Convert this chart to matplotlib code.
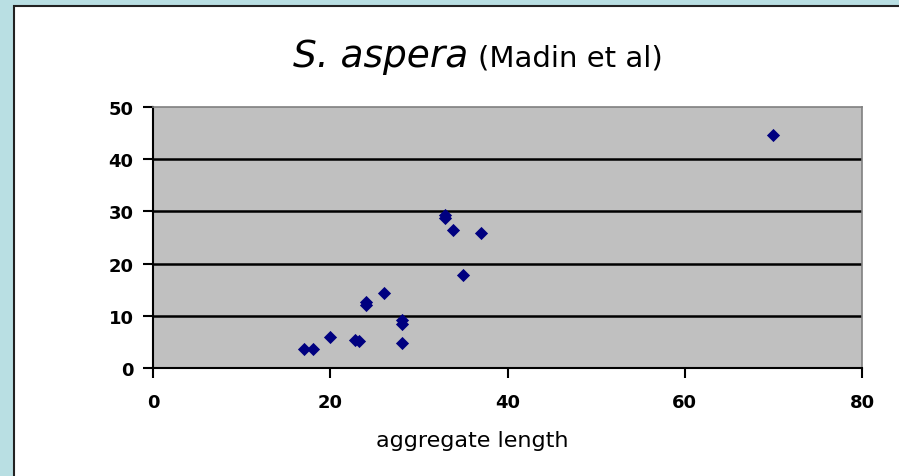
import matplotlib
matplotlib.use("Agg")
import matplotlib.pyplot as plt
from matplotlib.patches import Rectangle

# Data
x_length = [70, 33, 33, 33.9, 37, 35, 26.1, 24, 24, 28.1, 28.1, 28.1, 22.8, 23.2, 20, 17, 18]
y_values = [44.6, 29.4, 28.8, 26.5, 25.8, 17.8, 14.3, 12.6, 12.0, 9.2, 8.4, 4.8, 5.3, 5.1, 5.9, 3.6, 3.6]
x_ticks = [0, 20, 40, 60, 80]
y_ticks = [0, 10, 20, 30, 40, 50]

W, H = 899, 477
fig = plt.figure(figsize=(W / 100, H / 100), dpi=100)
fig.patch.set_facecolor("#b9dfe3")

# white chart panel
fig.patches.append(Rectangle((14 / W, -0.05), 1.1, 1.05 - 7 / H, transform=fig.transFigure,
                             facecolor="white", edgecolor="#222222", linewidth=1.5, zorder=-10))

left, right, top, bottom = 153, 862, 108, 369
ax = fig.add_axes([left / W, 1 - bottom / H, (right - left) / W, (bottom - top) / H])
ax.set_facecolor("#c0c0c0")
ax.set_xlim(0, 80)
ax.set_ylim(0, 50)
ax.set_xticks(x_ticks)
ax.set_yticks(y_ticks)
for yv in y_ticks[1:-1]:
    ax.axhline(yv, color="black", linewidth=1.8, zorder=1)

ax.scatter(x_length, y_values, marker="D", s=45, color="#000080", zorder=3, linewidths=0)

for s in ["top", "right"]:
    ax.spines[s].set_color("#808080")
    ax.spines[s].set_linewidth(1.2)
for s in ["left", "bottom"]:
    ax.spines[s].set_color("black")
    ax.spines[s].set_linewidth(1.5)

ax.tick_params(direction="out", length=7, width=1.5, color="black")
ax.tick_params(axis="x", pad=11)
ax.tick_params(axis="y", pad=7)
for lab in ax.get_xticklabels() + ax.get_yticklabels():
    lab.set_fontweight("bold")
    lab.set_fontsize(13)

fig.text(472 / W, 1 - 441 / H, "aggregate length", fontsize=16, ha="center", va="center")

base_y = 1 - 67 / H
fig.text(293 / W, base_y, "S. aspera", fontsize=27, fontstyle="italic", ha="left", va="baseline")
fig.text(663 / W, base_y, "(Madin et al)", fontsize=21, ha="right", va="baseline")

fig.savefig("out.png", dpi=100, facecolor=fig.get_facecolor())
